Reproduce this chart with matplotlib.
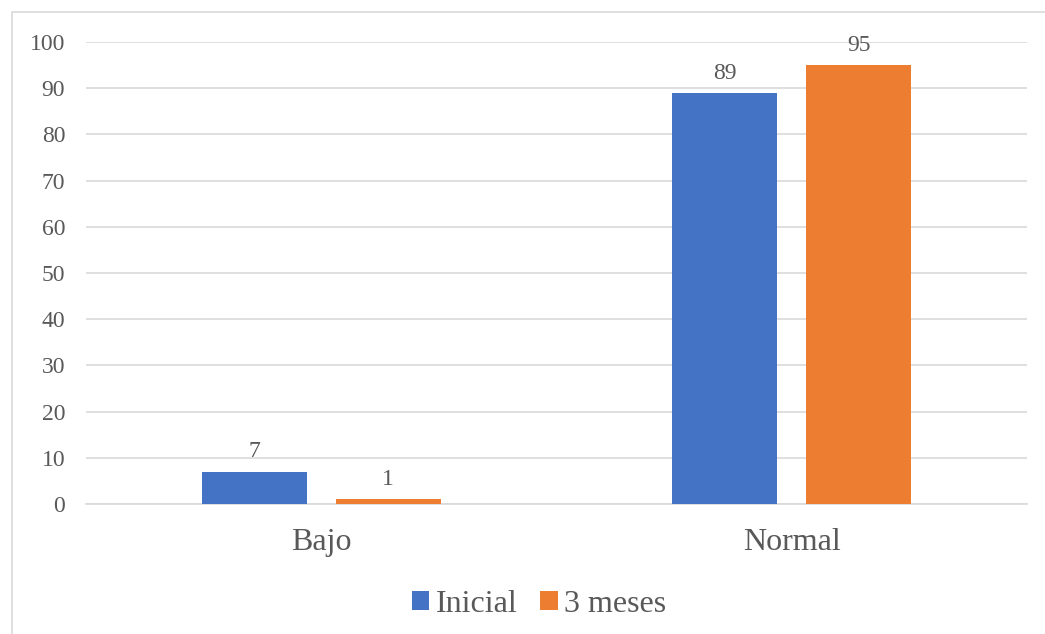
import matplotlib
matplotlib.use("Agg")
import matplotlib.pyplot as plt
import matplotlib.patches as mpatches
import numpy as np

categories = ["Bajo", "Normal"]
inicial = [7, 89]
tres_meses = [1, 95]
series_names = ["Inicial", "3 meses"]
y_ticks = [0, 10, 20, 30, 40, 50, 60, 70, 80, 90, 100]

BLUE = "#4472C4"
ORANGE = "#ED7D31"
TEXT = "#595959"
GRID = "#D9D9D9"

plt.rcParams["font.family"] = ["Liberation Serif", "DejaVu Serif"]

W, H = 1045, 634
fig = plt.figure(figsize=(W / 100, H / 100), dpi=100)
fig.patch.set_facecolor("white")

# outer chart border (Excel style)
fig.add_artist(mpatches.Rectangle((12 / W, -0.01), 1.05, 1 - 12 / H + 0.01,
                                  transform=fig.transFigure, fill=False,
                                  edgecolor=GRID, linewidth=1.2))

ax = fig.add_axes([86 / W, 1 - 504 / H, (1027 - 86) / W, (504 - 42) / H])

x = np.arange(len(categories))
bw = 0.223
off = 0.142
b1 = ax.bar(x - off, inicial, bw, color=BLUE, label=series_names[0], zorder=3)
b2 = ax.bar(x + off, tres_meses, bw, color=ORANGE, label=series_names[1], zorder=3)

for bars, vals in ((b1, inicial), (b2, tres_meses)):
    for bar, v in zip(bars, vals):
        ax.text(bar.get_x() + bar.get_width() / 2, v + 2.0, f"{v}",
                ha="center", va="bottom", color=TEXT, fontsize=17)

ax.set_xlim(-0.5, 1.5)
ax.set_ylim(0, 100)
ax.set_yticks(y_ticks)
ax.set_xticks(x)
ax.set_xticklabels(categories, fontsize=23, color=TEXT)
ax.tick_params(axis="y", labelsize=17, colors=TEXT, length=0, pad=15)
ax.tick_params(axis="x", length=0, pad=17)
ax.yaxis.grid(True, color=GRID, linewidth=1.2, zorder=0)
for s in ["top", "right", "left"]:
    ax.spines[s].set_visible(False)
ax.spines["bottom"].set_color(GRID)
ax.spines["bottom"].set_linewidth(1.2)

leg = fig.legend(handles=[b1, b2], labels=series_names, loc="center",
                 bbox_to_anchor=(539 / W, 1 - 604 / H), ncol=2, frameon=False,
                 fontsize=23, handlelength=0.55, handleheight=0.55,
                 handletextpad=0.2, columnspacing=0.72)
for t in leg.get_texts():
    t.set_color(TEXT)

fig.savefig("out.png", dpi=100, facecolor="white")
